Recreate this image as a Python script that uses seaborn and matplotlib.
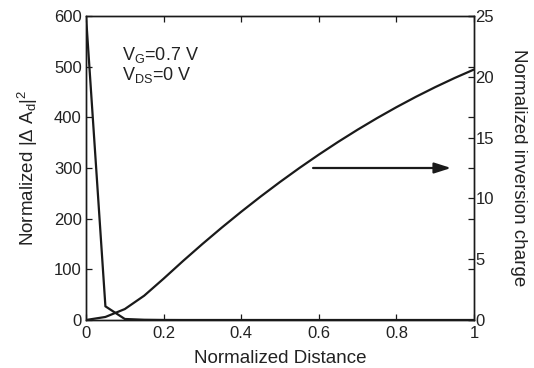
import matplotlib
matplotlib.use("Agg")
import matplotlib.pyplot as plt
import seaborn as sns
import pandas as pd

# data
distance = [0.0, 0.05, 0.1, 0.15, 0.2, 0.25, 0.3, 0.35, 0.4, 0.45, 0.5,
            0.55, 0.6, 0.65, 0.7, 0.75, 0.8, 0.85, 0.9, 0.95, 1.0]
delta_a2 = [600, 27, 2, 0.5, 0.1, 0, 0, 0, 0, 0, 0,
            0, 0, 0, 0, 0, 0, 0, 0, 0, 0]
inv_charge = [0.0, 0.25, 0.9, 2.0, 3.4, 4.85, 6.25, 7.6, 8.9, 10.15, 11.35,
              12.5, 13.6, 14.65, 15.65, 16.6, 17.5, 18.35, 19.15, 19.9, 20.6]
x_ticks = [0, 0.2, 0.4, 0.6, 0.8, 1]
x_tick_labels = ["0", "0.2", "0.4", "0.6", "0.8", "1"]
left_ticks = [0, 100, 200, 300, 400, 500, 600]
right_ticks = [0, 5, 10, 15, 20, 25]

sns.set_style("ticks")
plt.rcParams['font.family'] = ['Liberation Sans', 'DejaVu Sans']
plt.rcParams['mathtext.fontset'] = 'custom'
plt.rcParams['mathtext.rm'] = 'Liberation Sans'
plt.rcParams['mathtext.it'] = 'Liberation Sans'

df = pd.DataFrame({"x": distance, "a": delta_a2, "q": inv_charge})
col = "#1a1a1a"
tcol = "#222222"
fs_tick = 12
fs_lab = 13.5
fs_txt = 13

fig = plt.figure(figsize=(5.34, 3.68), dpi=100)
ax1 = fig.add_axes([86/534, 1-320/368, (474-86)/534, (320-16)/368])
ax2 = ax1.twinx()

sns.lineplot(data=df, x="x", y="a", ax=ax1, color=col, linewidth=1.6)
sns.lineplot(data=df, x="x", y="q", ax=ax2, color=col, linewidth=1.6)

ax1.set_xlim(0, 1)
ax1.set_ylim(0, 600)
ax2.set_ylim(0, 25)
ax1.set_xticks(x_ticks)
ax1.set_xticklabels(x_tick_labels)
ax1.set_yticks(left_ticks)
ax2.set_yticks(right_ticks)

for a in (ax1, ax2):
    for s in a.spines.values():
        s.set_visible(True)
        s.set_color(col)
        s.set_linewidth(1.0)
ax1.tick_params(axis="both", direction="in", length=4, width=0.9, color=col,
                labelsize=fs_tick, labelcolor=tcol, pad=3,
                top=True, right=True, labelright=False)
ax1.tick_params(axis="x", pad=4)
ax2.tick_params(axis="y", direction="in", length=4, width=0.9, color=col,
                labelsize=fs_tick, labelcolor=tcol, pad=1)

ax1.set_xlabel("Normalized Distance", fontsize=fs_lab, color=tcol, labelpad=7)
ax1.set_ylabel(r"Normalized $|\Delta\ A_d|^2$", fontsize=fs_lab, color=tcol, labelpad=10)
ax2.set_ylabel("Normalized inversion charge", fontsize=fs_lab, color=tcol,
               rotation=-90, labelpad=24)

ax1.text(0.092, 0.872, r"V$_\mathregular{G}$=0.7 V", transform=ax1.transAxes,
         fontsize=fs_txt, color=tcol, va="center")
ax1.text(0.092, 0.807, r"V$_\mathregular{DS}$=0 V", transform=ax1.transAxes,
         fontsize=fs_txt, color=tcol, va="center")

ax1.annotate("", xy=(0.948, 0.50), xytext=(0.578, 0.50),
             xycoords="axes fraction",
             arrowprops=dict(arrowstyle="-|>,head_length=1.0,head_width=0.32",
                             color=col, lw=1.6))

fig.savefig("out.png", dpi=100)
